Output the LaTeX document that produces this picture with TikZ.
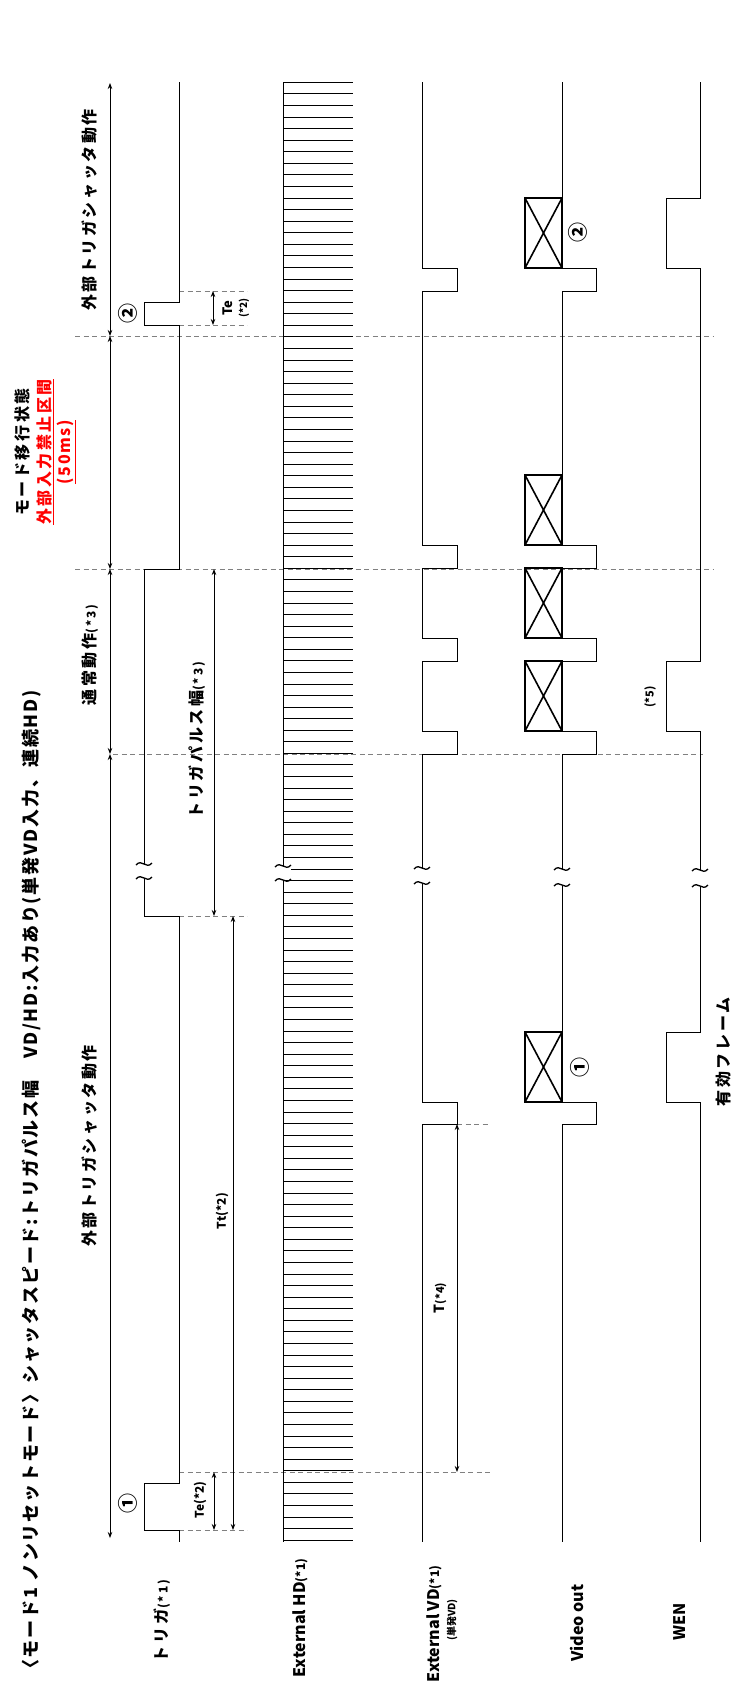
\documentclass[tikz,border=0pt]{standalone}
\usepackage{fontspec}
\setmainfont{Noto Sans CJK JP}
\usetikzlibrary{arrows.meta}
\definecolor{guidegray}{HTML}{808080}
\definecolor{alertred}{HTML}{FF0000}

% break mark on a signal line: x, upper y, lower y
\newcommand\sigbreak[3]{%
  \fill[white] (#1-8,#2) rectangle (#1+8,#3);
  \draw[line width=1.3pt] (#1-8,#2+1) .. controls (#1-2,#2-6) and (#1+2,#2+6) .. (#1+8,#2-1);
  \draw[line width=1.3pt] (#1-8,#3+1) .. controls (#1-2,#3-6) and (#1+2,#3+6) .. (#1+8,#3-1);
}

\begin{document}
\begin{tikzpicture}[x=1pt,y=-1pt,
    sig/.style={line width=0.9pt},
    guideline/.style={guidegray,line width=0.9pt,dash pattern=on 5pt off 3.5pt},
    dim/.style={line width=0.9pt,{Stealth[length=6pt,width=4.5pt]}-{Stealth[length=6pt,width=4.5pt]}},
    xbox/.style={line width=1.6pt},
    lbl/.style={rotate=90,inner sep=0pt,font=\bfseries\fontsize{16}{18}\selectfont},
    jlbl/.style={lbl,font=\bfseries\fontsize{16}{18}\selectfont\addfontfeature{LetterSpace=16}},
    num/.style={rotate=90,inner sep=0pt,font=\bfseries\fontsize{20}{22}\selectfont}]
  \useasboundingbox (0,0) rectangle (734,1695);

  % title
  \node[lbl,anchor=west,font=\bfseries\fontsize{18}{20}\selectfont\addfontfeature{LetterSpace=10}] (title) at (32,1678)
    {〈モード1 ノンリセットモード〉シャッタスピード:トリガパルス幅　VD/HD:入力あり(単発VD入力、連続HD)};

  % phase guides
  \draw[guideline] (75,336) -- (713,336);
  \draw[guideline] (75,569) -- (713,569);
  \draw[guideline] (113,754) -- (703,754);
  \draw[guideline] (179,291) -- (247,291);
  \draw[guideline] (179,325) -- (247,325);
  \draw[guideline] (179,916) -- (247,916);
  \draw[guideline] (179,1472) -- (492,1472);
  \draw[guideline] (179,1530) -- (247,1530);
  \draw[guideline] (457,1124) -- (490,1124);

  % phase arrow
  \draw[dim] (110,83) -- (110,336);
  \draw[dim] (110,336) -- (110,569);
  \draw[dim] (110,569) -- (110,754);
  \draw[dim] (110,754) -- (110,1538);
  \node[jlbl] (extop) at (90,210) {外部トリガシャッタ動作};
  \node[jlbl] (exbot) at (90,1146) {外部トリガシャッタ動作};
  \node[jlbl] (normal) at (90,655) {通常動作{\fontsize{12}{13}\selectfont(*3)}};
  \node[jlbl] (modechg) at (22,452) {モード移行状態};
  \node[jlbl,text=alertred] (inhibit) at (45,452) {\underline{外部入力禁止区間}};
  \node[lbl,text=alertred,font=\bfseries\fontsize{16}{18}\selectfont\addfontfeature{LetterSpace=10}] (inhms) at (66,452) {\underline{(50ms)}};

  % trigger
  \draw[sig] (179,82) -- (179,302) -- (144,302) -- (144,325) -- (179,325) -- (179,569)
    -- (144,569) -- (144,916) -- (179,916) -- (179,1483) -- (144,1483) -- (144,1530)
    -- (179,1530) -- (179,1542);
  \node[num] (trigtwo) at (128,313) {②};
  \node[num] (trigone) at (128,1503) {①};
  \draw[dim] (213,291) -- (213,325);
  \node[lbl,font=\bfseries\fontsize{13}{14}\selectfont] (tetop) at (228,308) {Te};
  \node[lbl,font=\bfseries\fontsize{10}{11}\selectfont] (tetopn) at (244,308) {(*2)};
  \draw[dim] (214,569) -- (214,916);
  \node[jlbl] (pwidth) at (197,740) {トリガパルス幅{\fontsize{12}{13}\selectfont(*3)}};
  \draw[dim] (233,916) -- (233,1530);
  \node[lbl,font=\bfseries\fontsize{12}{13}\selectfont] (tt) at (222,1211) {Tt(*2)};
  \draw[dim] (214,1472) -- (214,1530);
  \node[lbl,font=\bfseries\fontsize{12}{13}\selectfont] (tebot) at (200,1500) {Te(*2)};

  % external HD
  \draw[sig] (283,82) -- (283,1542);
  \foreach \i in {0,...,126}
    \draw[sig] (283,82.3+\i*11.57) -- (353,82.3+\i*11.57);

  % external VD
  \draw[sig] (422,82) -- (422,268) -- (457,268) -- (457,291) -- (422,291) -- (422,545)
    -- (457,545) -- (457,568) -- (422,568) -- (422,638) -- (457,638) -- (457,661)
    -- (422,661) -- (422,731) -- (457,731) -- (457,754) -- (422,754) -- (422,1102)
    -- (457,1102) -- (457,1124) -- (422,1124) -- (422,1542);
  \draw[dim] (457,1124) -- (457,1472);
  \node[lbl,font=\bfseries\fontsize{14}{15}\selectfont] (tvd) at (440,1298) {T{\fontsize{11}{12}\selectfont(*4)}};

  % video out
  \draw[sig] (562,82) -- (562,268) -- (596,268) -- (596,291) -- (562,291) -- (562,545)
    -- (596,545) -- (596,568) -- (562,568) -- (562,638) -- (596,638) -- (596,661)
    -- (562,661) -- (562,731) -- (596,731) -- (596,754) -- (562,754) -- (562,1102)
    -- (596,1102) -- (596,1124) -- (562,1124) -- (562,1542);
  \foreach \ya/\yb in {198/268,475/545,568/638,661/731,1032/1102} {
    \draw[xbox] (525,\ya) rectangle (562,\yb);
    \draw[xbox] (525,\ya) -- (562,\yb) (525,\yb) -- (562,\ya);
  }
  \node[num] (vidtwo) at (578,232) {②};
  \node[num] (vidone) at (580,1067) {①};

  % WEN
  \draw[sig] (700,82) -- (700,198) -- (666,198) -- (666,268) -- (700,268) -- (700,661)
    -- (666,661) -- (666,731) -- (700,731) -- (700,1032) -- (666,1032) -- (666,1102)
    -- (700,1102) -- (700,1542);
  \node[lbl,font=\bfseries\fontsize{11}{12}\selectfont] (wennote) at (650,697) {(*5)};
  \node[jlbl] (valid) at (723,1052) {有効フレーム};

  % breaks
  \sigbreak{144}{864}{878}
  \sigbreak{283}{866}{880}
  \sigbreak{422}{868}{883}
  \sigbreak{562}{869}{885}
  \sigbreak{700}{870}{886}

  % row labels
  \node[jlbl] (ltrig) at (162,1621) {トリガ{\fontsize{12}{13}\selectfont(*1)}};
  \node[lbl] (lhd) at (300,1618) {External HD{\fontsize{12}{13}\selectfont(*1)}};
  \node[lbl] (lvd) at (434,1624) {External VD{\fontsize{12}{13}\selectfont(*1)}};
  \node[lbl,font=\bfseries\fontsize{10}{11}\selectfont] (lvdsub) at (452,1620) {(単発VD)};
  \node[lbl] (lvideo) at (577,1623) {Video out};
  \node[lbl] (lwen) at (680,1622) {WEN};
\end{tikzpicture}
\end{document}
